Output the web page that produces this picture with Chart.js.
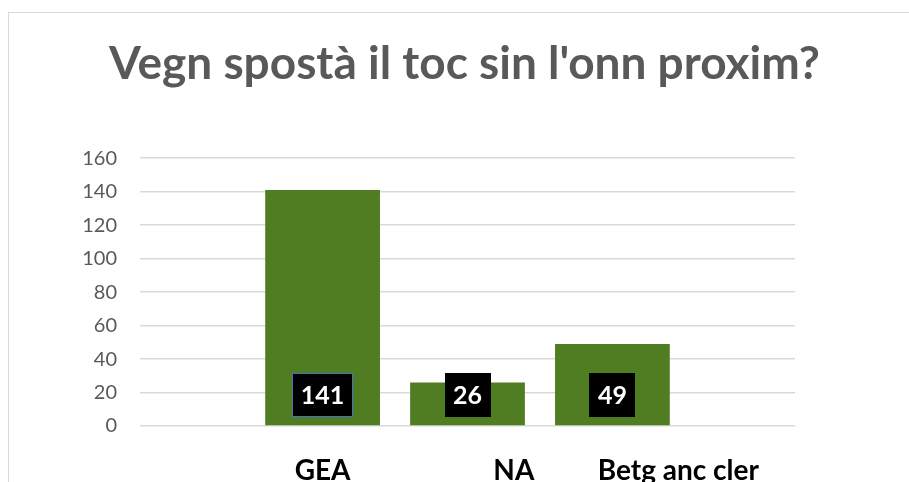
<!DOCTYPE html>
<html>
<head>
<meta charset="utf-8">
<title>Vegn spostà il toc sin l'onn proxim?</title>
<script src="https://cdn.jsdelivr.net/npm/chart.js@4.4.1/dist/chart.umd.min.js"></script>
<style>
  html, body { margin: 0; padding: 0; background: #fff; overflow: hidden; }
  #frame { position: absolute; left: 8px; top: 12px; width: 1000px; height: 600px; border: 1px solid #d9d9d9; }
  #chart { position: absolute; left: 0; top: 0; }
</style>
</head>
<body>
<div id="frame"></div>
<canvas id="chart" width="909" height="482"></canvas>
<script>
const chartTitle = "Vegn spostà il toc sin l'onn proxim?";
const categories = ['GEA', 'NA', 'Betg anc cler'];
const answers = [141, 26, 49];
const yTicks = [0, 20, 40, 60, 80, 100, 120, 140, 160];

// the captions sit off-centre under their bars in the original, nudge them (category units)
const labelNudge = [0, 0.32, 0.455];

// black value boxes sitting at the foot of each bar
const valueBoxes = {
  id: 'valueBoxes',
  afterDatasetsDraw(chart) {
    const ctx = chart.ctx;
    const meta = chart.getDatasetMeta(0);
    ctx.save();
    ctx.font = 'bold 25px Lato';
    ctx.textAlign = 'center';
    ctx.textBaseline = 'middle';
    meta.data.forEach((bar, i) => {
      const txt = String(answers[i]);
      const w = Math.round(ctx.measureText(txt).width + 17);
      const h = 44;
      const left = Math.round(bar.x - w / 2);
      const top = Math.round(bar.base - 8 - h);
      ctx.fillStyle = '#000';
      ctx.fillRect(left, top, w, h);
      if (i === 0) {
        ctx.strokeStyle = '#4472c4';
        ctx.lineWidth = 1;
        ctx.strokeRect(left + 0.5, top + 0.5, w - 1, h - 1);
      }
      ctx.fillStyle = '#fff';
      ctx.fillText(txt, bar.x, top + h / 2 + 1);
    });
    ctx.restore();
  }
};

new Chart(document.getElementById('chart'), {
  type: 'bar',
  data: {
    datasets: [{
      data: categories.map((c, i) => ({ x: i, y: answers[i] })),
      backgroundColor: '#507d22',
      barPercentage: 0.99,
      categoryPercentage: 0.8
    }]
  },
  options: {
    responsive: false,
    animation: false,
    layout: { padding: { left: 20, right: 0, top: 0, bottom: 0 } },
    plugins: {
      legend: { display: false },
      tooltip: { enabled: false },
      title: {
        display: true,
        text: chartTitle,
        color: '#595959',
        font: { family: 'Lato', size: 46, weight: 'bold' },
        padding: { top: 37, bottom: 66 }
      }
    },
    scales: {
      x: {
        type: 'linear',
        min: -1.26,
        max: 3.26,
        offset: false,
        grid: { display: false },
        border: { display: false },
        afterBuildTicks: s => { s.ticks = categories.map((c, i) => ({ value: i + labelNudge[i] })); },
        afterFit: s => { s.height = 56; },
        ticks: {
          autoSkip: false,
          maxRotation: 0,
          padding: 20,
          color: '#000',
          font: { family: 'Lato', size: 28, weight: 'bold' },
          callback: (v, i) => categories[i]
        }
      },
      y: {
        min: yTicks[0],
        max: yTicks[yTicks.length - 1],
        afterBuildTicks: s => { s.ticks = yTicks.map(v => ({ value: v })); },
        afterFit: s => { s.width = 120; },
        grid: { color: '#d9d9d9', lineWidth: 1.5, drawTicks: false },
        border: { display: false },
        ticks: {
          padding: 23,
          color: '#595959',
          font: { family: 'Lato', size: 20 }
        }
      },
      // empty axis that only reserves the blank strip right of the plot
      spacer: {
        position: 'right',
        grid: { display: false },
        border: { display: false },
        ticks: { display: false },
        afterFit: s => { s.width = 114; }
      }
    }
  },
  plugins: [valueBoxes]
});
</script>
</body>
</html>
